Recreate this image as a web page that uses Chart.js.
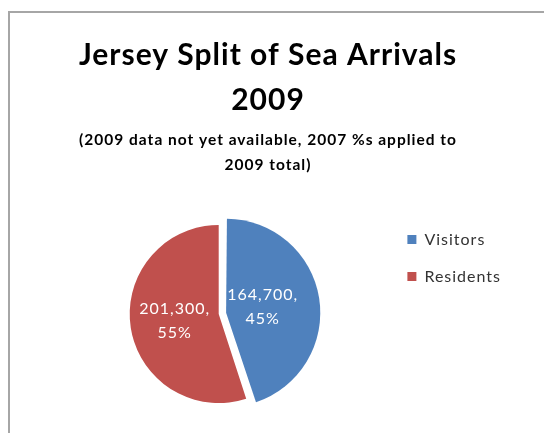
<!DOCTYPE html>
<html>
<head>
<meta charset="utf-8">
<script src="https://cdn.jsdelivr.net/npm/chart.js@4"></script>
<style>
  html, body { margin: 0; padding: 0; background: #fff; overflow: hidden; }
  #frame { position: absolute; left: 8px; top: 11px; width: 600px; height: 500px;
           border-left: 2px solid #a6a6a6; border-top: 2px solid #a6a6a6; }
  #wrap { position: absolute; left: 0; top: 0; width: 544px; height: 433px; }
</style>
</head>
<body>
<div id="frame"></div>
<div id="wrap"><canvas id="seaChart" width="544" height="433"></canvas></div>
<script>
// Jersey sea arrivals 2009
const categories = ['Visitors', 'Residents'];
const arrivals = [164700, 201300];
const shares = [45, 55];
const sliceColors = ['#4f81bd', '#c0504d'];
const titleLines = ['Jersey Split of Sea Arrivals', '2009'];
const subtitleLines = ['(2009 data not yet available, 2007 %s applied to', '2009 total)'];

// the old Excel text renders quite loosely spaced
const looseText = {
  id: 'looseText',
  beforeDraw(chart) {
    chart.ctx.letterSpacing = '1px';
  }
};

// white value labels inside each slice
const sliceLabels = {
  id: 'sliceLabels',
  afterDatasetsDraw(chart) {
    const ctx = chart.ctx;
    const meta = chart.getDatasetMeta(0);
    ctx.save();
    ctx.fillStyle = '#ffffff';
    ctx.font = '16px Lato';
    ctx.letterSpacing = '1px';
    ctx.textAlign = 'center';
    ctx.textBaseline = 'middle';
    meta.data.forEach((arc, i) => {
      const mid = (arc.startAngle + arc.endAngle) / 2;
      const r = arc.outerRadius / 2;
      const x = arc.x + Math.cos(mid) * r;
      const y = arc.y + Math.sin(mid) * r;
      ctx.fillText(arrivals[i].toLocaleString('en-US') + ',', x, y - 12);
      ctx.fillText(shares[i] + '%', x, y + 12);
    });
    ctx.restore();
  }
};

const seaChart = new Chart(document.getElementById('seaChart'), {
  type: 'pie',
  data: {
    labels: categories,
    datasets: [{
      data: arrivals,
      backgroundColor: sliceColors,
      borderWidth: 0,
      offset: [30, 0],
      radius: 89
    }]
  },
  options: {
    responsive: false,
    animation: false,
    layout: { padding: { left: 34, right: 42, top: 0, bottom: 5 } },
    plugins: {
      title: {
        display: true,
        text: titleLines,
        color: '#000',
        font: { family: 'Lato', size: 30, weight: 'bold', lineHeight: 1.5 },
        padding: { top: 32.5, bottom: 0 }
      },
      subtitle: {
        display: true,
        text: subtitleLines,
        color: '#000',
        font: { family: 'Lato', size: 15.5, weight: 'bold', lineHeight: 25 / 15.5 },
        padding: { top: 4.5, bottom: 23 }
      },
      legend: {
        position: 'right',
        align: 'start',
        fullSize: false,
        title: { display: true, text: ' ', padding: 0, font: { size: 10, lineHeight: 2.75 } },
        labels: {
          boxWidth: 9,
          boxHeight: 9,
          padding: 4,
          color: '#333',
          font: { family: 'Lato', size: 16, lineHeight: '33px' },
          // one-line arrays so the row step follows the font lineHeight
          generateLabels(chart) {
            const base = Chart.overrides.doughnut.plugins.legend.labels.generateLabels(chart);
            return base.map(item => Object.assign(item, { text: [item.text] }));
          }
        }
      },
      tooltip: { enabled: false }
    }
  },
  plugins: [looseText, sliceLabels]
});
</script>
</body>
</html>
